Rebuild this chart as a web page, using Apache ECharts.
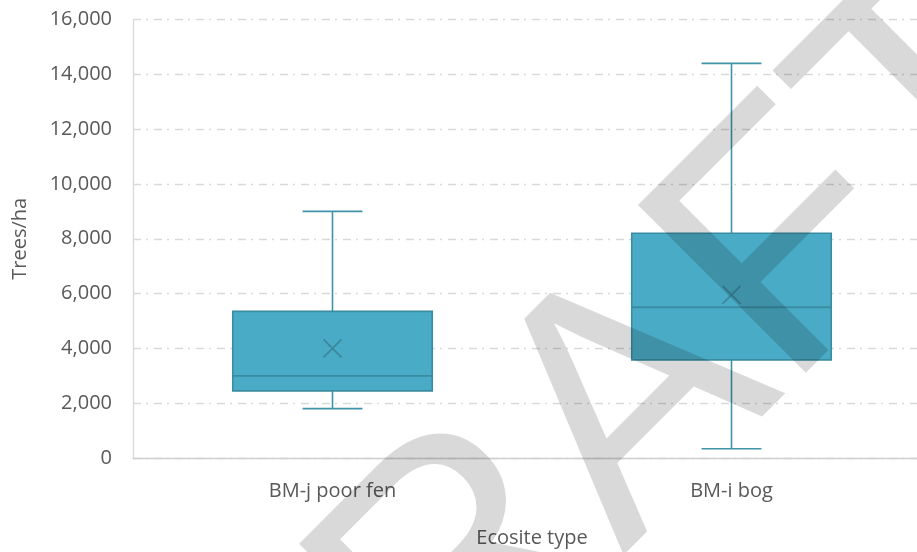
<!DOCTYPE html>
<html>
<head>
<meta charset="utf-8">
<script src="https://cdn.jsdelivr.net/npm/echarts@6/dist/echarts.min.js"></script>
<style>
html,body{margin:0;padding:0;background:#fff;}
#chart{width:917px;height:552px;}
</style>
</head>
<body>
<div id="chart"></div>
<script>
// ---- data ----
const categories = ['BM-j poor fen', 'BM-i bog'];
const minVals    = [1800, 340];
const q1Vals     = [2450, 3580];
const medianVals = [3000, 5500];
const q3Vals     = [5350, 8200];
const maxVals    = [9000, 14400];
const meanVals   = [4000, 5950];
const yTicks     = [0, 2000, 4000, 6000, 8000, 10000, 12000, 14000, 16000];
const xTitle = 'Ecosite type';
const yTitle = 'Trees/ha';
const watermark = 'DRAFT';

const boxData = categories.map((c, i) => [i, minVals[i], q1Vals[i], medianVals[i], q3Vals[i], maxVals[i], meanVals[i]]);

const FONT = "'Open Sans', sans-serif";
const TXT = '#595959';

function renderBox(params, api) {
  const xi = api.value(0);
  const pMin = api.coord([xi, api.value(1)]);
  const pQ1 = api.coord([xi, api.value(2)]);
  const pMed = api.coord([xi, api.value(3)]);
  const pQ3 = api.coord([xi, api.value(4)]);
  const pMax = api.coord([xi, api.value(5)]);
  const pMean = api.coord([xi, api.value(6)]);
  const band = api.size([1, 0])[0];
  const cx = pMed[0];
  const bw = band * 0.5;
  const cw = band * 0.15;
  const mk = 9;
  const whisk = { stroke: '#3f94aa', lineWidth: 1.6 };
  const edge = '#3a8ca2';
  return {
    type: 'group',
    children: [
      { type: 'line', shape: { x1: cx, y1: pQ1[1], x2: cx, y2: pMin[1] }, style: whisk },
      { type: 'line', shape: { x1: cx, y1: pQ3[1], x2: cx, y2: pMax[1] }, style: whisk },
      { type: 'line', shape: { x1: cx - cw / 2, y1: pMin[1], x2: cx + cw / 2, y2: pMin[1] }, style: whisk },
      { type: 'line', shape: { x1: cx - cw / 2, y1: pMax[1], x2: cx + cw / 2, y2: pMax[1] }, style: whisk },
      { type: 'rect', shape: { x: cx - bw / 2, y: pQ3[1], width: bw, height: pQ1[1] - pQ3[1] },
        style: { fill: '#4aabc6', stroke: edge, lineWidth: 1.6 } },
      { type: 'line', shape: { x1: cx - bw / 2, y1: pMed[1], x2: cx + bw / 2, y2: pMed[1] },
        style: { stroke: edge, lineWidth: 1.8 } },
      { type: 'line', shape: { x1: cx - mk, y1: pMean[1] - mk, x2: cx + mk, y2: pMean[1] + mk },
        style: { stroke: '#3b889c', lineWidth: 1.8 } },
      { type: 'line', shape: { x1: cx - mk, y1: pMean[1] + mk, x2: cx + mk, y2: pMean[1] - mk },
        style: { stroke: '#3b889c', lineWidth: 1.8 } }
    ]
  };
}

const chart = echarts.init(document.getElementById('chart'), null, { renderer: 'canvas' });
const ang = 45 * Math.PI / 180;
chart.setOption({
  animation: false,
  backgroundColor: '#ffffff',
  textStyle: { fontFamily: FONT },
  grid: { left: 133, top: 19.5, width: 798, height: 438.5, containLabel: false, outerBoundsMode: 'none' },
  xAxis: {
    type: 'category',
    data: categories,
    name: xTitle,
    nameLocation: 'middle',
    nameGap: 70,
    nameTextStyle: { color: TXT, fontSize: 20, fontFamily: FONT },
    axisLine: { show: true, lineStyle: { color: '#d0d0d0', width: 1.3 } },
    axisTick: { show: false },
    axisLabel: { color: TXT, fontSize: 20, fontFamily: FONT, margin: 23 },
    splitLine: { show: false }
  },
  yAxis: {
    type: 'value',
    min: yTicks[0],
    max: yTicks[yTicks.length - 1],
    interval: 2000,
    name: yTitle,
    nameLocation: 'middle',
    nameGap: 103,
    nameTextStyle: { color: TXT, fontSize: 20, fontFamily: FONT },
    axisLine: { show: true, lineStyle: { color: '#d9d9d9', width: 1.3 } },
    axisTick: { show: false },
    axisLabel: {
      color: TXT, fontSize: 20, fontFamily: FONT, margin: 21,
      formatter: v => v.toLocaleString('en-US')
    },
    splitLine: { show: true, lineStyle: { color: '#d9d9d9', width: 1.3, type: [8, 5, 2, 6] } }
  },
  series: [{
    type: 'custom',
    data: boxData,
    encode: { x: 0, y: [1, 2, 3, 4, 5, 6] },
    renderItem: renderBox,
    z: 5
  }],
  graphic: [{
    type: 'text',
    x: 610,
    y: 434,
    rotation: ang,
    z: 100,
    silent: true,
    style: {
      text: watermark,
      fontSize: 345,
      fontFamily: "'Liberation Sans', Arial, sans-serif",
      fill: 'rgba(0,0,0,0.15)',
      textAlign: 'center',
      textVerticalAlign: 'middle'
    }
  }]
});
</script>
</body>
</html>
